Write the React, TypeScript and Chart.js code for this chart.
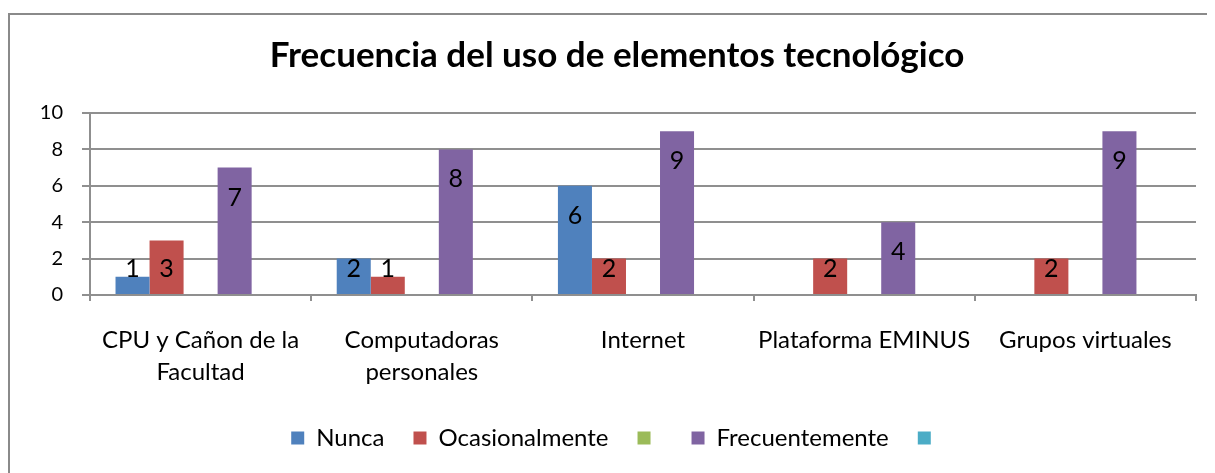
import React, { useEffect, useRef } from "react";
import { Chart, registerables } from "chart.js";

Chart.register(...registerables);

const categories: (string | string[])[] = [
  ["CPU y Cañon de la", "Facultad"],
  ["Computadoras", "personales"],
  "Internet",
  "Plataforma EMINUS",
  "Grupos virtuales",
];
const nunca: (number | null)[] = [1, 2, 6, null, null];
const ocasionalmente: (number | null)[] = [3, 1, 2, 2, 2];
const serie3: (number | null)[] = [null, null, null, null, null];
const frecuentemente: (number | null)[] = [7, 8, 9, 4, 9];
const serie5: (number | null)[] = [null, null, null, null, null];
const seriesNames = ["Nunca", "Ocasionalmente", "", "Frecuentemente", ""];
const seriesColors = ["#4F81BD", "#C0504D", "#9BBB59", "#8064A2", "#4BACC6"];
const yTicks = [0, 2, 4, 6, 8, 10];
const title = "Frecuencia del uso de elementos tecnológico";

const FONT = "Lato, 'Noto Sans', sans-serif";
const GRID = "#8f8f8f";

const labelPlugin = {
  id: "barLabels",
  afterDatasetsDraw(chart: any) {
    const ctx = chart.ctx;
    ctx.save();
    ctx.font = `25px ${FONT}`;
    ctx.fillStyle = "#000";
    ctx.textAlign = "center";
    ctx.textBaseline = "middle";
    chart.data.datasets.forEach((ds: any, di: number) => {
      const meta = chart.getDatasetMeta(di);
      meta.data.forEach((el: any, i: number) => {
        const v = ds.data[i];
        if (v === null || v === undefined) return;
        const y = Math.min(el.y + 30, el.base - 25);
        ctx.fillText(String(v), el.x, y);
      });
    });
    ctx.restore();
  },
};

export default function App() {
  const ref = useRef<HTMLCanvasElement | null>(null);
  useEffect(() => {
    if (!ref.current) return;
    const values = [nunca, ocasionalmente, serie3, frecuentemente, serie5];
    const chart = new Chart(ref.current, {
      type: "bar",
      data: {
        labels: categories,
        datasets: values.map((d, i) => ({
          label: seriesNames[i],
          data: d,
          backgroundColor: seriesColors[i],
          borderWidth: 0,
          categoryPercentage: 5 / 6.5,
          barPercentage: 1,
          yAxisID: "y",
        })),
      },
      options: {
        animation: false,
        responsive: false,
        devicePixelRatio: 1,
        layout: { padding: { left: 0, right: 0, top: 0, bottom: 15 } },
        plugins: {
          title: {
            display: true,
            text: title,
            color: "#000",
            font: { family: FONT, size: 35, weight: "bold", lineHeight: 1.2 },
            padding: { top: 20, bottom: 36 },
          },
          legend: {
            display: true,
            position: "bottom",
            labels: {
              color: "#000",
              font: { family: FONT, size: 24 },
              boxWidth: 13,
              boxHeight: 13,
              padding: 29,
            },
          },
          tooltip: { enabled: false },
        },
        scales: {
          x: {
            offset: true,
            grid: {
              display: true,
              drawOnChartArea: false,
              offset: true,
              tickLength: 6,
              color: GRID,
              lineWidth: 2,
            },
            border: { display: true, color: GRID, width: 2 },
            ticks: {
              color: "#000",
              font: { family: FONT, size: 24, lineHeight: 1.34 },
              padding: 23,
              maxRotation: 0,
              autoSkip: false,
            },
            afterFit: (s: any) => {
              s.height = 102;
            },
          },
          y: {
            position: "left",
            min: 0,
            max: 10,
            afterBuildTicks: (s: any) => {
              s.ticks = yTicks.map((v) => ({ value: v }));
            },
            grid: { color: GRID, lineWidth: 2, tickLength: 8 },
            border: { display: true, color: GRID, width: 2 },
            ticks: {
              color: "#000",
              font: { family: FONT, size: 20 },
              padding: 19,
            },
            afterFit: (s: any) => {
              s.width = 80;
            },
          },
          yRight: {
            type: "linear",
            position: "right",
            display: true,
            grid: { display: false },
            border: { display: false },
            ticks: { display: false },
            afterFit: (s: any) => {
              s.width = 28;
            },
          },
        },
      },
      plugins: [labelPlugin],
    } as any);
    return () => chart.destroy();
  }, []);

  return (
    <div style={{ width: 1207, height: 465, overflow: "hidden", position: "relative" }}>
      <div
        style={{
          position: "absolute",
          left: 0,
          top: 5,
          width: 1300,
          height: 600,
          borderLeft: "2px solid #8a8a8a",
          borderTop: "2px solid #8a8a8a",
        }}
      >
        <canvas ref={ref} width={1214} height={460} style={{ display: "block" }} />
      </div>
    </div>
  );
}
